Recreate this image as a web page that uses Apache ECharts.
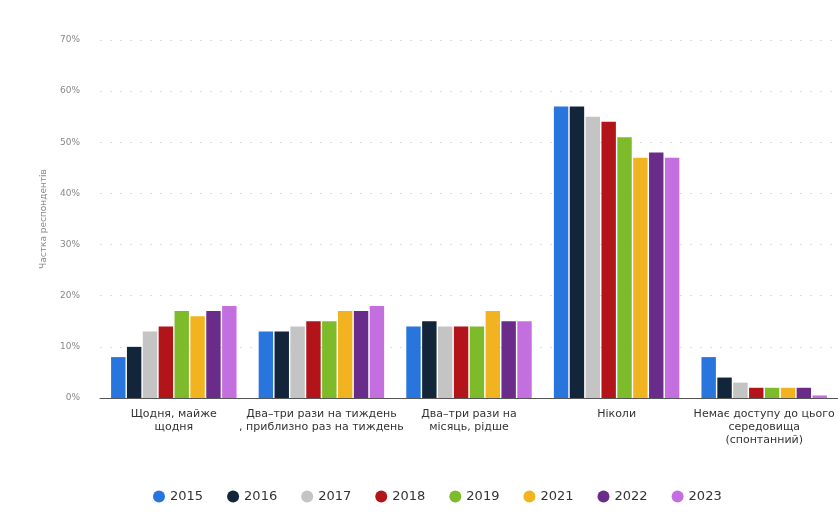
<!DOCTYPE html>
<html><head><meta charset="utf-8">
<script src="https://cdn.jsdelivr.net/npm/echarts@6/dist/echarts.min.js"></script>
<style>html,body{margin:0;padding:0;background:#fff}#c{width:838px;height:528px}</style>
</head><body><div id="c"></div>
<script>
const categories = ["Щодня, майже\nщодня", "Два–три рази на тиждень\n, приблизно раз на тиждень", "Два–три рази на\nмісяць, рідше", "Ніколи", "Немає доступу до цього\nсередовища\n(спонтанний)"];
const years = ["2015", "2016", "2017", "2018", "2019", "2021", "2022", "2023"];
const v2015 = [8, 13, 14, 57, 8];
const v2016 = [10, 13, 15, 57, 4];
const v2017 = [13, 14, 14, 55, 3];
const v2018 = [14, 15, 14, 54, 2];
const v2019 = [17, 15, 14, 51, 2];
const v2021 = [16, 17, 17, 47, 2];
const v2022 = [17, 17, 15, 48, 2];
const v2023 = [18, 18, 15, 47, 0.5];
const yTicks = [0, 10, 20, 30, 40, 50, 60, 70];
const colors = ['#2876DD', '#12253A', '#C4C4C4', '#B3141A', '#7DBB2B', '#F2B321', '#6A2C8A', '#C46FE0'];
const seriesValues = [v2015, v2016, v2017, v2018, v2019, v2021, v2022, v2023];

const chart = echarts.init(document.getElementById('c'));
chart.setOption({
  animation: false,
  backgroundColor: '#fff',
  color: colors,
  textStyle: { fontFamily: 'DejaVu Sans' },
  grid: { left: 100, right: 0, top: 40, bottom: 130 },
  legend: {
    bottom: 20, left: 148, icon: 'circle', itemWidth: 12, itemHeight: 12, itemGap: 24,
    textStyle: { fontSize: 13, color: '#333', fontFamily: 'DejaVu Sans' },
    data: years
  },
  xAxis: {
    type: 'category', data: categories,
    axisLine: { lineStyle: { color: '#555' } },
    axisTick: { show: false },
    axisLabel: { interval: 0, fontSize: 11, color: '#333', lineHeight: 13, margin: 10 }
  },
  yAxis: {
    type: 'value', min: yTicks[0], max: yTicks[yTicks.length - 1], interval: 10,
    name: 'Частка респондентів', nameLocation: 'middle', nameGap: 52, nameRotate: 90,
    nameTextStyle: { fontSize: 9, color: '#888' },
    axisLine: { show: false }, axisTick: { show: false },
    axisLabel: { formatter: '{value}%', fontSize: 9, color: '#888', margin: 20 },
    splitLine: { lineStyle: { color: '#ddd', type: [2, 8] } }
  },
  series: years.map((y, i) => ({
    name: y, type: 'bar', data: seriesValues[i],
    barGap: '10%', barCategoryGap: '15%'
  }))
});
</script></body></html>
